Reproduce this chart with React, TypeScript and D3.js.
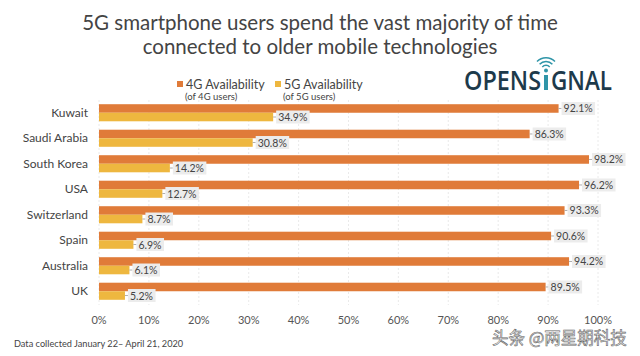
import React from "react";
import * as d3 from "d3";

const countries = ["Kuwait", "Saudi Arabia", "South Korea", "USA", "Switzerland", "Spain", "Australia", "UK"];
const avail4G = [92.1, 86.3, 98.2, 96.2, 93.3, 90.6, 94.2, 89.5];
const avail5G = [34.9, 30.8, 14.2, 12.7, 8.7, 6.9, 6.1, 5.2];
const xTicks = [0, 10, 20, 30, 40, 50, 60, 70, 80, 90, 100];
const titleLines = ["5G smartphone users spend the vast majority of time", "connected to older mobile technologies"];
const legendItems = [
  { label: "4G Availability", sub: "(of 4G users)" },
  { label: "5G Availability", sub: "(of 5G users)" },
];

const W = 640;
const H = 356;
const ORANGE = "#E07B39";
const YELLOW = "#EEB73F";
const TEXT = "#444";
const FONT = "Lato, 'Open Sans', sans-serif";
const NAVY = "#1d3a4b";
const TEAL = "#2f95a8";

function ValueLabel({ x, y, text }: { x: number; y: number; text: string }) {
  const w = text.length * 5.9 + 4;
  return (
    <g>
      <line x1={x} x2={x + 3} y1={y} y2={y} stroke="#999" strokeWidth={0.8} />
      <rect x={x + 3} y={y - 6.5} width={w} height={13} fill="#ececec" />
      <text x={x + 5} y={y + 4} fontSize={10.5} fill={TEXT} fontFamily={FONT}>
        {text}
      </text>
    </g>
  );
}

export default function App() {
  const x = d3.scaleLinear().domain([0, 100]).range([99, 598]);
  const y = d3.scaleBand<string>().domain(countries).range([100, 304]).paddingInner(0.33).paddingOuter(0.165);
  const bh = y.bandwidth() / 2;

  return (
    <svg width={W} height={H} style={{ position: "absolute", left: 0, top: 0, background: "#fff" }}>
      <rect width={W} height={H} fill="#fff" />
      {titleLines.map((t, i) => (
        <text key={i} x={320} y={30 + i * 24} textAnchor="middle" fontSize={20.5} fill={TEXT} fontFamily={FONT}>
          {t}
        </text>
      ))}

      {/* legend */}
      {legendItems.map((it, i) => {
        const lx = [177, 275][i];
        return (
          <g key={i}>
            <rect x={lx} y={81} width={6} height={6} fill={i === 0 ? ORANGE : YELLOW} />
            <text x={lx + 9} y={89} fontSize={12.5} fill={TEXT} fontFamily={FONT}>{it.label}</text>
            <text x={lx + 8} y={99.5} fontSize={9.5} fill={TEXT} fontFamily={FONT}>{it.sub}</text>
          </g>
        );
      })}

      {/* logo */}
      <g fontSize={27} fontWeight={600} fontFamily="'Open Sans', sans-serif">
        <text x={464} y={90} fill={NAVY} textLength={77} lengthAdjust="spacingAndGlyphs">OPENS</text>
        <rect x={544} y={75} width={4} height={15} fill={TEAL} />
        <text x={551} y={90} fill={NAVY} textLength={61} lengthAdjust="spacingAndGlyphs">GNAL</text>
        <circle cx={546} cy={70.5} r={2} fill={TEAL} />
        <path d="M542.3,67 A5,5 0 0 1 549.7,67" fill="none" stroke={TEAL} strokeWidth={1.5} />
        <path d="M539.6,64.3 A8.8,8.8 0 0 1 552.4,64.3" fill="none" stroke={TEAL} strokeWidth={1.5} />
        <path d="M537,61.6 A12.5,12.5 0 0 1 555,61.6" fill="none" stroke={TEAL} strokeWidth={1.5} />
      </g>

      {/* grid */}
      {xTicks.map((t) => (
        <line key={t} x1={x(t)} x2={x(t)} y1={100} y2={305} stroke="#e4e4e4" strokeWidth={0.8} strokeDasharray="2,2" />
      ))}

      {/* bars */}
      {countries.map((c, i) => {
        const y0 = y(c)!;
        return (
          <g key={c}>
            <rect x={x(0)} y={y0} width={x(avail4G[i]) - x(0)} height={bh} fill={ORANGE} />
            <rect x={x(0)} y={y0 + bh} width={x(avail5G[i]) - x(0)} height={bh} fill={YELLOW} />
            <ValueLabel x={x(avail4G[i])} y={y0 + bh / 2} text={`${avail4G[i].toFixed(1)}%`} />
            <ValueLabel x={x(avail5G[i])} y={y0 + bh * 1.5} text={`${avail5G[i].toFixed(1)}%`} />
            <text x={88} y={y0 + bh + 4} textAnchor="end" fontSize={12} fill={TEXT} fontFamily={FONT}>
              {c}
            </text>
          </g>
        );
      })}

      {/* x axis labels */}
      {xTicks.map((t) => (
        <text key={t} x={x(t)} y={324} textAnchor="middle" fontSize={11} fill="#555" fontFamily={FONT}>
          {`${t}%`}
        </text>
      ))}

      <text x={14} y={347} fontSize={9.2} fill={TEXT} fontFamily={FONT}>
        Data collected January 22– April 21, 2020
      </text>

      <text x={492} y={344} fontSize={16.5} fill="#fff" stroke="#666" strokeWidth={0.6} fontFamily="'Noto Sans CJK SC', sans-serif">
        头条 @两星期科技
      </text>
    </svg>
  );
}
